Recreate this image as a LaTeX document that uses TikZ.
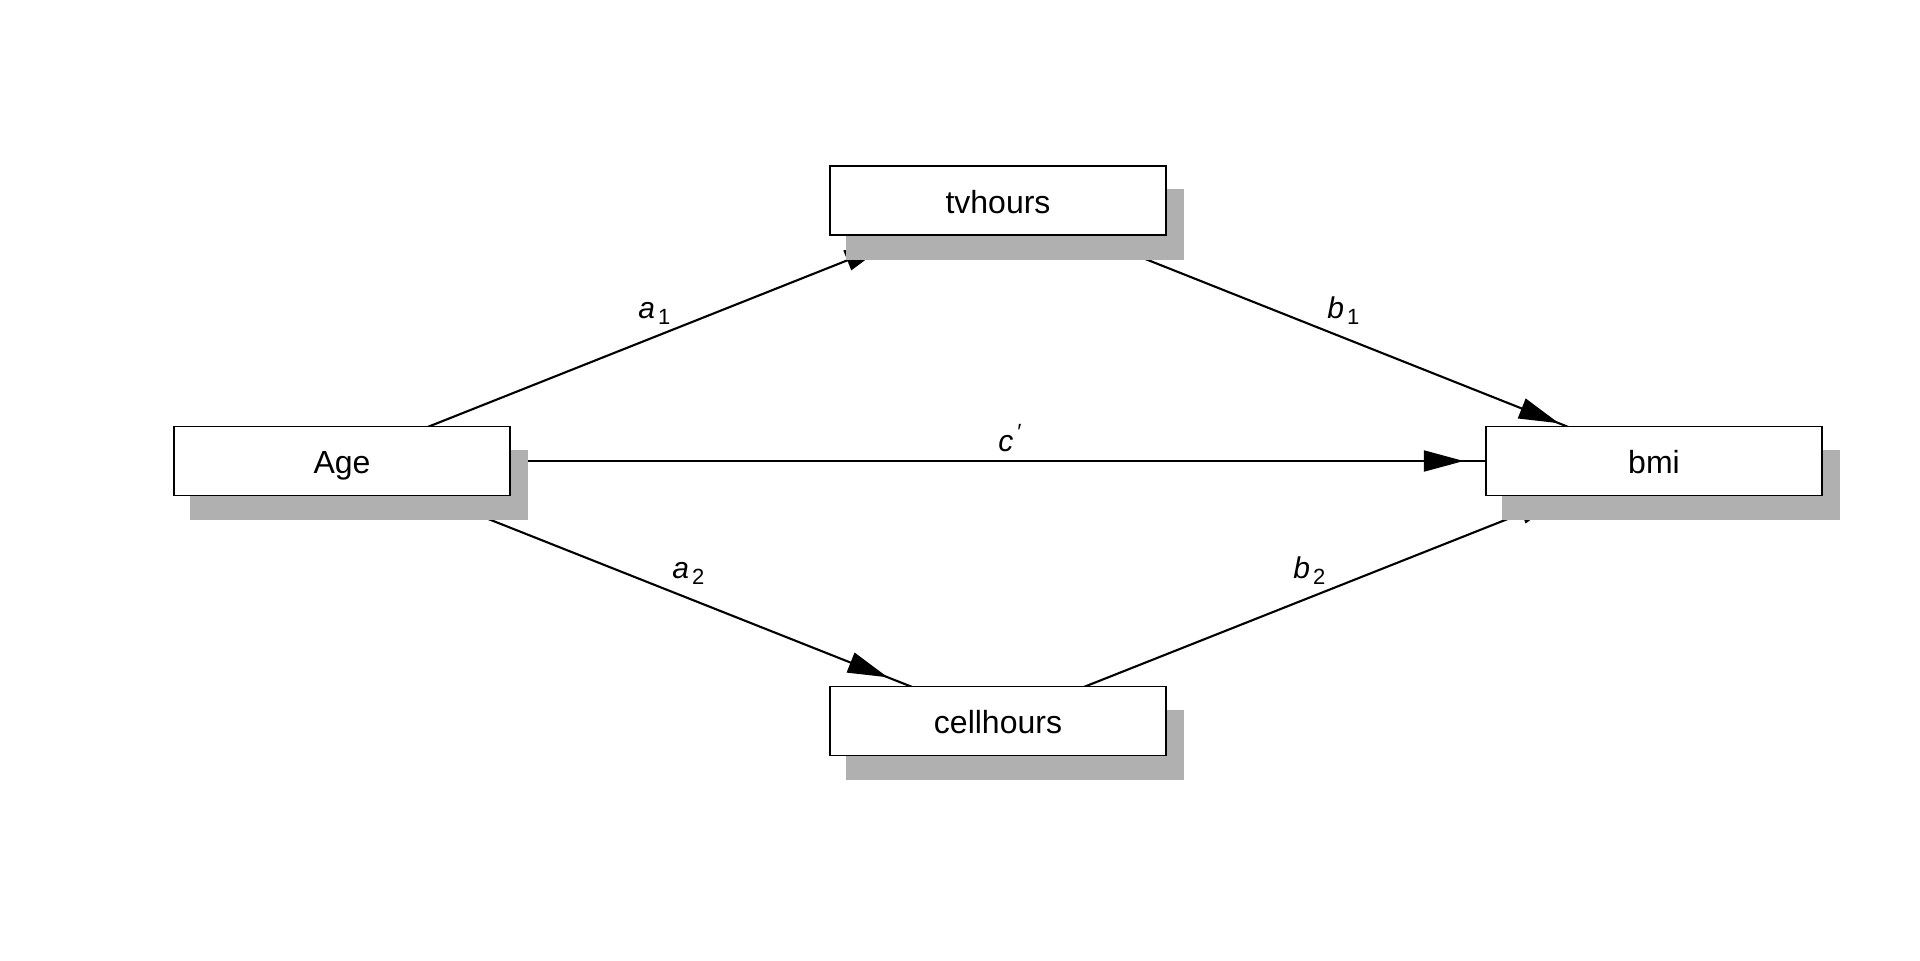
\documentclass[tikz,border=0pt]{standalone}
\usepackage{fontspec}
\setmainfont{Liberation Sans}
\usetikzlibrary{arrows.meta,decorations.markings}
\pgfdeclarelayer{edgelayer}
\pgfdeclarelayer{shadowlayer}
\pgfsetlayers{edgelayer,shadowlayer,main}
\definecolor{shadowgrey}{RGB}{176,176,176}
\tikzset{
  varbox/.style={draw=black, line width=0.95pt, fill=white, minimum width=168pt,
    minimum height=34.5pt, inner sep=0pt, text height=12.8pt, text depth=0pt,
    font=\fontsize{16}{19}\selectfont},
  pathlabel/.style={anchor=base west, inner sep=0pt, font=\fontsize{15}{18}\selectfont\itshape},
  edgeline/.style={line width=1.05pt, draw=black},
  tipat/.style={postaction={decorate}, decoration={markings,
    mark=at position #1 with {\arrow{Triangle[length=20pt,width=10.5pt]}}}},
  boxshadow/.style={fill=shadowgrey, draw=none}
}
\newcommand{\mysubs}[1]{\kern1.5pt\raisebox{-3pt}{\fontsize{11}{13}\selectfont\upshape #1}}
\newcommand{\myprime}{\kern1.5pt\raisebox{6pt}{\fontsize{11}{13}\selectfont ′}}
\begin{document}
\begin{tikzpicture}[x=0.5pt,y=-0.5pt]
\useasboundingbox (0,0) rectangle (1920,960);
\node[varbox] (age)  at (342,461)  {Age};
\node[varbox] (tv)   at (998,200.5) {tvhours};
\node[varbox] (cell) at (998,721)  {cellhours};
\node[varbox] (bmi)  at (1654,461) {bmi};
\begin{pgfonlayer}{shadowlayer}
  \foreach \n in {age,tv,cell,bmi}
    \fill[boxshadow] ([shift={(17,24)}]\n.south west) rectangle ([shift={(17,24)}]\n.north east);
\end{pgfonlayer}
\begin{pgfonlayer}{edgelayer}
  \draw[edgeline, tipat=0.827] (age.center) -- (tv.center);
  \draw[edgeline, tipat=0.832] (age.center) -- (cell.center);
  \draw[edgeline, tipat=0.855] (age.center) -- (bmi.center);
  \draw[edgeline, tipat=0.855] (tv.center) -- (bmi.center);
  \draw[edgeline, tipat=0.855] (cell.center) -- (bmi.center);
\end{pgfonlayer}
\node[pathlabel] (la1) at (638,318) {a\mysubs{1}};
\node[pathlabel] (lb1) at (1327,318) {b\mysubs{1}};
\node[pathlabel] (la2) at (672,578) {a\mysubs{2}};
\node[pathlabel] (lb2) at (1293,578) {b\mysubs{2}};
\node[pathlabel] (lc)  at (998,451) {c\myprime};
\end{tikzpicture}
\end{document}
